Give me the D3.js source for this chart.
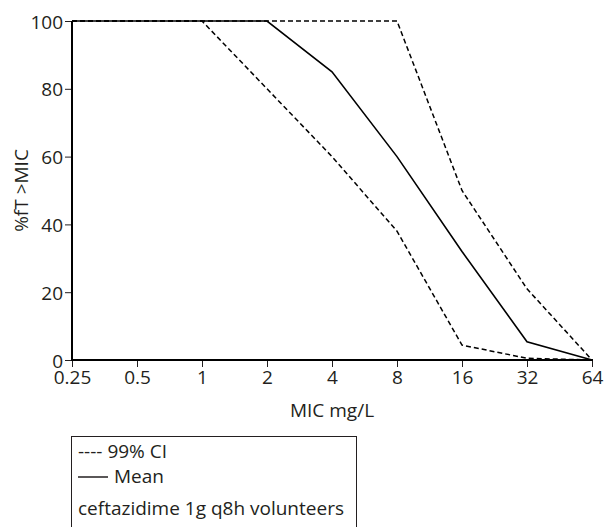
<!DOCTYPE html>
<html>
<head>
<meta charset="utf-8">
<script src="https://cdn.jsdelivr.net/npm/d3@7"></script>
<style>
  html, body { margin: 0; padding: 0; background: #fff; }
  svg { display: block; }
  text { font-family: "Open Sans", "Noto Sans", sans-serif; fill: #231f20; }
</style>
</head>
<body>
<svg id="chart" width="605" height="527"></svg>
<script>
// MIC values (mg/L) and %fT>MIC for ceftazidime 1 g q8h in volunteers
const micValues = [0.25, 0.5, 1, 2, 4, 8, 16, 32, 64];
const micLabels = ["0.25", "0.5", "1", "2", "4", "8", "16", "32", "64"];
const meanValues = [100, 100, 100, 100, 85, 60, 32, 5.4, 0];
const lowerCI = [100, 100, 100, 80, 60, 38, 4.4, 0.5, 0];
const upperCI = [100, 100, 100, 100, 100, 100, 50, 21, 0];
const yTicks = [0, 20, 40, 60, 80, 100];

const svg = d3.select("#chart");
const plotLeft = 72, plotRight = 592, plotTop = 21, plotBottom = 360;

const x = d3.scaleLog().base(2).domain([0.25, 64]).range([plotLeft, plotRight]);
const y = d3.scaleLinear().domain([0, 100]).range([plotBottom, plotTop]);

const fontSize = 19;

// axes
const xAxis = d3.axisBottom(x)
  .tickValues(micValues)
  .tickFormat((d, i) => micLabels[i])
  .tickSize(7)
  .tickPadding(2);
const yAxis = d3.axisLeft(y)
  .tickValues(yTicks)
  .tickSize(7)
  .tickPadding(2);

const gx = svg.append("g").attr("transform", `translate(0,${plotBottom})`).call(xAxis);
const gy = svg.append("g").attr("transform", `translate(${plotLeft},0)`).call(yAxis);

[gx, gy].forEach(g => {
  g.select(".domain").remove();
  g.selectAll(".tick line").attr("stroke", "#231f20").attr("stroke-width", 1);
  g.selectAll(".tick text").style("font-size", fontSize + "px").attr("fill", "#231f20");
});
// baseline-anchored tick labels
gx.selectAll(".tick text").attr("y", 24).attr("dy", null);
gy.selectAll(".tick text").attr("dy", null).attr("y", 7);

// axis lines
svg.append("line")
  .attr("x1", plotLeft).attr("x2", plotRight + 1)
  .attr("y1", plotBottom).attr("y2", plotBottom)
  .attr("stroke", "#000").attr("stroke-width", 2);
svg.append("line")
  .attr("x1", plotLeft).attr("x2", plotLeft)
  .attr("y1", plotTop).attr("y2", plotBottom + 1)
  .attr("stroke", "#000").attr("stroke-width", 2);

// axis titles
svg.append("text")
  .attr("x", (plotLeft + plotRight) / 2)
  .attr("y", 417)
  .attr("text-anchor", "middle")
  .style("font-size", fontSize + "px")
  .text("MIC mg/L");
svg.append("text")
  .attr("transform", `translate(28,${(plotTop + plotBottom) / 2}) rotate(-90)`)
  .attr("text-anchor", "middle")
  .style("font-size", fontSize + "px")
  .text("%fT >MIC");

// curves
const line = d3.line()
  .x((d, i) => x(micValues[i]))
  .y(d => y(d));

svg.append("path").datum(lowerCI)
  .attr("d", line).attr("fill", "none")
  .attr("stroke", "#000").attr("stroke-width", 1.5)
  .attr("stroke-dasharray", "5,3");
svg.append("path").datum(upperCI)
  .attr("d", line).attr("fill", "none")
  .attr("stroke", "#000").attr("stroke-width", 1.5)
  .attr("stroke-dasharray", "5,3");
svg.append("path").datum(meanValues)
  .attr("d", line).attr("fill", "none")
  .attr("stroke", "#000").attr("stroke-width", 1.6);

// legend box
const lg = svg.append("g");
lg.append("rect")
  .attr("x", 71.5).attr("y", 436.5)
  .attr("width", 285).attr("height", 120)
  .attr("fill", "none").attr("stroke", "#231f20").attr("stroke-width", 1);
lg.append("text")
  .attr("x", 78).attr("y", 458)
  .style("font-size", fontSize + "px")
  .text("---- 99% CI");
lg.append("line")
  .attr("x1", 78).attr("x2", 108)
  .attr("y1", 477).attr("y2", 477)
  .attr("stroke", "#231f20").attr("stroke-width", 1.5);
lg.append("text")
  .attr("x", 114).attr("y", 483)
  .style("font-size", fontSize + "px")
  .text("Mean");
lg.append("text")
  .attr("x", 78).attr("y", 515)
  .style("font-size", fontSize + "px")
  .text("ceftazidime 1g q8h volunteers");
</script>
</body>
</html>
